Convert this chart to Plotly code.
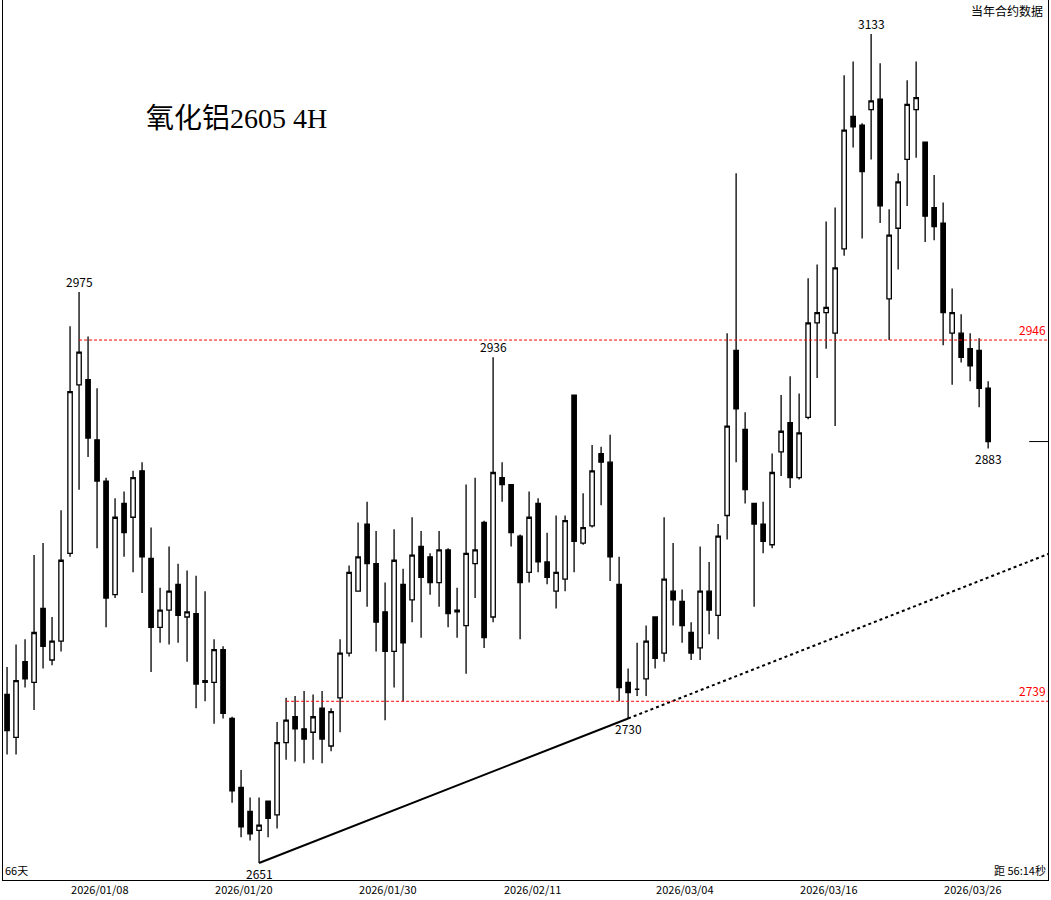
import plotly.graph_objects as go

# 4H candles, oldest first
opens = [2749, 2724, 2768, 2756, 2799, 2769, 2780, 2831, 2929, 2932,
         2897, 2873, 2807, 2860, 2852, 2879, 2828, 2788, 2798, 2813,
         2794, 2796, 2756, 2756, 2775, 2735, 2695, 2681, 2670, 2687,
         2679, 2721, 2736, 2729, 2727, 2741, 2719, 2747, 2773, 2809,
         2848, 2825, 2797, 2774, 2813, 2804, 2835, 2829, 2814, 2833,
         2797, 2789, 2825, 2849, 2794, 2875, 2871, 2841, 2820, 2860,
         2826, 2809, 2816, 2923, 2837, 2847, 2889, 2884, 2813, 2756,
         2752, 2758, 2794, 2773, 2809, 2803, 2785, 2776, 2809, 2795,
         2853, 2949, 2903, 2860, 2848, 2836, 2890, 2907, 2875, 2910,
         2965, 2971, 2959, 3008, 3085, 3080, 3089, 3095, 2979, 3020,
         3060, 3089, 3070, 3032, 3023, 2959, 2959, 2950, 2949, 2927]
highs = [2765, 2778, 2781, 2830, 2837, 2794, 2856, 2963, 2983, 2957,
         2927, 2875, 2863, 2867, 2879, 2884, 2846, 2811, 2835, 2825,
         2821, 2818, 2809, 2781, 2777, 2736, 2705, 2689, 2689, 2687,
         2733, 2747, 2748, 2751, 2749, 2751, 2741, 2781, 2824, 2849,
         2861, 2844, 2814, 2845, 2822, 2852, 2844, 2831, 2844, 2834,
         2811, 2871, 2875, 2850, 2945, 2884, 2871, 2842, 2867, 2863,
         2843, 2853, 2853, 2923, 2866, 2894, 2893, 2900, 2829, 2764,
         2779, 2789, 2794, 2852, 2837, 2810, 2791, 2835, 2826, 2848,
         2959, 3052, 2913, 2860, 2861, 2889, 2923, 2934, 2924, 2991,
         2999, 3024, 3032, 3109, 3117, 3081, 3133, 3116, 3031, 3052,
         3106, 3117, 3070, 3051, 3035, 2985, 2970, 2959, 2956, 2931]
lows = [2714, 2714, 2753, 2740, 2764, 2766, 2774, 2829, 2868, 2887,
        2834, 2788, 2805, 2829, 2820, 2808, 2762, 2779, 2778, 2779,
        2768, 2741, 2745, 2732, 2735, 2686, 2666, 2664, 2651, 2666,
        2671, 2711, 2710, 2709, 2711, 2709, 2716, 2727, 2771, 2809,
        2800, 2774, 2734, 2753, 2745, 2791, 2782, 2807, 2800, 2788,
        2782, 2761, 2805, 2776, 2791, 2861, 2835, 2781, 2814, 2820,
        2813, 2799, 2809, 2820, 2836, 2846, 2859, 2815, 2745, 2735,
        2748, 2748, 2764, 2768, 2789, 2779, 2769, 2769, 2784, 2781,
        2839, 2884, 2860, 2800, 2831, 2834, 2876, 2869, 2874, 2909,
        2933, 2950, 2905, 3004, 3067, 3014, 3060, 3023, 2955, 2996,
        3033, 3061, 3012, 3013, 2952, 2929, 2942, 2931, 2916, 2892]
closes = [2728, 2757, 2758, 2785, 2777, 2780, 2827, 2925, 2948, 2898,
          2873, 2805, 2852, 2843, 2875, 2829, 2788, 2798, 2809, 2795,
          2797, 2755, 2757, 2775, 2738, 2693, 2672, 2668, 2673, 2677,
          2721, 2734, 2729, 2723, 2736, 2723, 2739, 2773, 2820, 2829,
          2825, 2791, 2774, 2827, 2779, 2830, 2817, 2814, 2833, 2796,
          2798, 2831, 2833, 2782, 2878, 2871, 2843, 2814, 2852, 2826,
          2817, 2820, 2850, 2838, 2846, 2879, 2884, 2829, 2753, 2750,
          2752, 2780, 2770, 2816, 2804, 2789, 2773, 2809, 2798, 2841,
          2905, 2915, 2868, 2848, 2838, 2878, 2902, 2875, 2901, 2965,
          2971, 2974, 2997, 3077, 3079, 3053, 3094, 3033, 3016, 3047,
          3092, 3096, 3027, 3021, 2971, 2971, 2945, 2940, 2927, 2896]

tick_pos = [10.3, 26.3, 42.3, 58.4, 75.3, 91.3, 107.3]
tick_text = ['2026/01/08', '2026/01/20', '2026/01/30', '2026/02/11',
             '2026/03/04', '2026/03/16', '2026/03/26']

resistance = 2955
support = 2745

n = len(opens)
idx = list(range(n))

fig = go.Figure()
fig.add_trace(go.Candlestick(
    x=idx, open=opens, high=highs, low=lows, close=closes,
    increasing=dict(line=dict(color='black', width=1.3), fillcolor='white'),
    decreasing=dict(line=dict(color='black', width=1.3), fillcolor='black'),
    whiskerwidth=0, hoverinfo='skip', showlegend=False))

# trend line through the two swing lows, extended to the right edge
i1, i2 = 28, 69
p1, p2 = lows[i1], lows[i2]
slope = (p2 - p1) / (i2 - i1)
x_end = 116
fig.add_trace(go.Scatter(x=[i1, i2], y=[p1, p2], mode='lines',
                         line=dict(color='black', width=2), showlegend=False, hoverinfo='skip'))
fig.add_trace(go.Scatter(x=[i2, x_end], y=[p2, p2 + slope * (x_end - i2)], mode='lines',
                         line=dict(color='black', width=2, dash='dot'), showlegend=False, hoverinfo='skip'))

for lvl, txt, x0 in [(resistance, '2946', 8), (support, '2739', 31)]:
    fig.add_shape(type='line', x0=x0, x1=116, xref='x', y0=lvl, y1=lvl,
                  line=dict(color='red', width=1, dash='3px,2px'))
    fig.add_annotation(xref='paper', x=1, y=lvl, text=txt, showarrow=False,
                       xanchor='right', yanchor='bottom', font=dict(color='red', size=12))

fig.add_shape(type='line', xref='paper', x0=0.982, x1=1, y0=closes[-1], y1=closes[-1],
              line=dict(color='black', width=1))

for i, txt, above in [(8, '2975', True), (54, '2936', True), (96, '3133', True),
                      (28, '2651', False), (69, '2730', False), (109, '2883', False)]:
    y = highs[i] if above else lows[i]
    fig.add_annotation(x=i, y=y, text=txt, showarrow=False,
                       yanchor='bottom' if above else 'top', yshift=0,
                       font=dict(size=12, color='black'))

fig.add_annotation(xref='paper', yref='paper', x=0.135, y=0.885, text='氧化铝2605 4H',
                   showarrow=False, xanchor='left',
                   font=dict(family='Liberation Serif, Noto Sans CJK SC', size=28, color='black'))
fig.add_annotation(xref='paper', yref='paper', x=0.997, y=1, text='当年合约数据', showarrow=False,
                   xanchor='right', yanchor='top', font=dict(family='Noto Sans CJK SC', size=12))
fig.add_annotation(xref='paper', yref='paper', x=0.0, y=0.0, text='66天', showarrow=False,
                   xanchor='left', yanchor='bottom', font=dict(family='Noto Sans CJK SC', size=11))
fig.add_annotation(xref='paper', yref='paper', x=1, y=0.0, text='距 56:14秒', showarrow=False,
                   xanchor='right', yanchor='bottom', font=dict(family='Noto Sans CJK SC', size=11))

fig.update_layout(
    width=1051, height=900, paper_bgcolor='white', plot_bgcolor='white',
    margin=dict(l=3, r=3, t=0, b=20),
    font=dict(family='Noto Sans CJK SC, Arial', size=11, color='black'),
    xaxis=dict(range=[-0.45, 115.65], tickvals=tick_pos, ticktext=tick_text,
               showgrid=False, zeroline=False, rangeslider=dict(visible=False),
               showline=True, linecolor='black', ticks='', tickfont=dict(size=11)),
    yaxis=dict(range=[2641.1, 3152.7], showgrid=False, zeroline=False, showticklabels=False,
               showline=True, linecolor='black', mirror=True),
)

fig.write_html("out.html", config={'displayModeBar': False},
               post_script="document.body.style.margin='0';document.body.style.overflow='hidden';")
